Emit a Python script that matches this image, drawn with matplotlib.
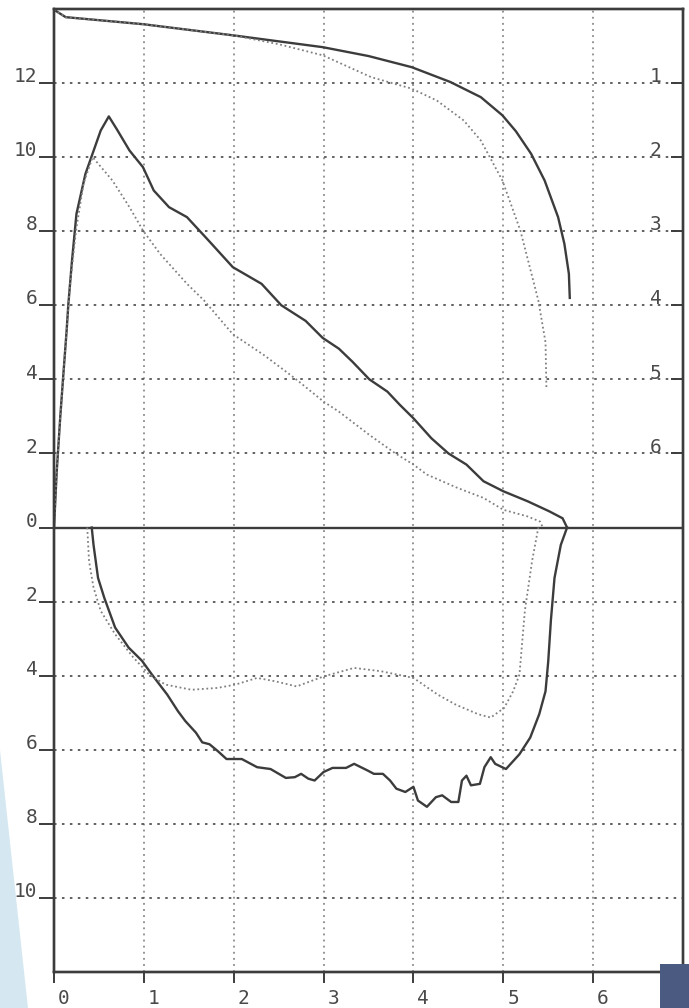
import matplotlib
matplotlib.use("Agg")
import matplotlib.pyplot as plt
from matplotlib.patches import Polygon, Rectangle
from matplotlib.transforms import ScaledTranslation

# ---- data (volume L, flow L/s; inspiration drawn below 0) ----
# upper "top" curves
top_solid_x = [0.0, 0.13, 0.99, 1.99, 2.99, 3.5, 3.98, 4.41, 4.75, 4.99, 5.14, 5.31, 5.46, 5.61, 5.68, 5.73, 5.74]
top_solid_y = [13.98, 13.78, 13.59, 13.29, 12.97, 12.73, 12.43, 12.03, 11.62, 11.13, 10.7, 10.09, 9.37, 8.38, 7.66, 6.85, 6.2]
top_dot_x = [0.0, 0.13, 0.99, 1.99, 2.5, 2.99, 3.53, 3.98, 4.26, 4.56, 4.75, 4.99, 5.19, 5.39, 5.47, 5.48]
top_dot_y = [13.98, 13.78, 13.59, 13.29, 13.05, 12.75, 12.16, 11.85, 11.53, 10.99, 10.45, 9.37, 8.02, 6.13, 5.0, 3.75]

# expiratory loop, solid
exp_solid_x = [0.0, 0.03, 0.07, 0.1, 0.14, 0.16, 0.2, 0.25, 0.35, 0.43, 0.52, 0.61, 0.7, 0.84, 0.99,
               1.11, 1.28, 1.48, 1.72, 1.99, 2.31, 2.53, 2.8, 2.99, 3.17, 3.32, 3.51, 3.71, 3.85, 4.0,
               4.2, 4.39, 4.59, 4.78, 5.0, 5.27, 5.51, 5.66, 5.71]
exp_solid_y = [0.0, 1.5, 3.0, 4.0, 5.3, 6.04, 7.2, 8.47, 9.55, 10.1, 10.72, 11.1, 10.75, 10.18, 9.73,
               9.1, 8.65, 8.38, 7.75, 7.03, 6.58, 6.0, 5.58, 5.12, 4.83, 4.48, 4.0, 3.67, 3.31, 2.95,
               2.41, 2.0, 1.7, 1.25, 0.98, 0.71, 0.44, 0.25, 0.0]
# expiratory loop, dotted
exp_dot_x = [0.0, 0.03, 0.07, 0.1, 0.14, 0.18, 0.25, 0.33, 0.43, 0.65, 0.84, 0.99, 1.18, 1.48, 1.67,
             1.99, 2.34, 2.68, 3.0, 3.17, 3.51, 3.8, 4.0, 4.15, 4.49, 4.78, 5.0, 5.27, 5.41, 5.44]
exp_dot_y = [0.0, 1.5, 3.0, 4.0, 5.3, 6.6, 8.1, 9.3, 10.0, 9.37, 8.65, 8.02, 7.39, 6.58, 6.13,
             5.22, 4.65, 4.03, 3.4, 3.13, 2.5, 2.0, 1.7, 1.43, 1.07, 0.8, 0.48, 0.3, 0.16, 0.0]

# inspiratory loop, solid
insp_solid_x = [0.42, 0.44, 0.49, 0.56, 0.68, 0.83, 0.98, 1.09, 1.26, 1.38, 1.46, 1.58, 1.65, 1.73,
                1.82, 1.92, 2.09, 2.26, 2.41, 2.58, 2.68, 2.75, 2.83, 2.9, 3.0, 3.1, 3.25, 3.34,
                3.49, 3.56, 3.66, 3.74, 3.81, 3.91, 4.0, 4.05, 4.15, 4.25, 4.32, 4.42, 4.5, 4.54,
                4.59, 4.64, 4.74, 4.79, 4.86, 4.91, 5.03, 5.18, 5.3, 5.4, 5.47, 5.5, 5.53, 5.57,
                5.64, 5.71]
insp_solid_y = [0.0, -0.47, -1.36, -1.9, -2.7, -3.24, -3.6, -3.97, -4.51, -4.96, -5.22, -5.54, -5.8,
                -5.85, -6.03, -6.25, -6.25, -6.47, -6.52, -6.76, -6.74, -6.65, -6.78, -6.83, -6.6,
                -6.49, -6.49, -6.38, -6.56, -6.65, -6.65, -6.83, -7.05, -7.14, -7.0, -7.37, -7.54,
                -7.28, -7.23, -7.41, -7.41, -6.83, -6.7, -6.96, -6.92, -6.47, -6.2, -6.38, -6.52,
                -6.12, -5.67, -5.04, -4.42, -3.62, -2.5, -1.36, -0.47, 0.0]
# inspiratory loop, dotted
insp_dot_x = [0.37, 0.39, 0.44, 0.52, 0.68, 0.88, 1.06, 1.24, 1.53, 1.82, 2.02, 2.26, 2.46, 2.7,
              3.0, 3.34, 3.64, 4.0, 4.27, 4.47, 4.72, 4.86, 5.01, 5.11, 5.18, 5.24, 5.32, 5.39]
insp_dot_y = [0.0, -0.91, -1.62, -2.25, -2.88, -3.5, -3.97, -4.24, -4.38, -4.33, -4.24, -4.06,
              -4.15, -4.29, -4.02, -3.79, -3.88, -4.06, -4.51, -4.78, -5.04, -5.13, -4.87, -4.42,
              -3.97, -2.25, -0.91, 0.0]

x_ticks = [0, 1, 2, 3, 4, 5, 6]
y_ticks = [12, 10, 8, 6, 4, 2, 0, -2, -4, -6, -8, -10]
y_labels = ["12", "10", "8", "6", "4", "2", "0", "2", "4", "6", "8", "10"]
right_ticks = [12, 10, 8, 6, 4, 2]
right_labels = ["1", "2", "3", "4", "5", "6"]

INK = "#3c3c3c"
FONT = ["DejaVu Sans Mono"]
FS = 14

fig = plt.figure(figsize=(6.89, 10.08), dpi=100)
fig.patch.set_facecolor("white")

# slide decorations around the scan
fig.patches.append(Polygon([(0, 0), (28 / 689, 0), (0, 1 - 750 / 1008)], closed=True,
                           transform=fig.transFigure, facecolor="#d5e8f1", edgecolor="none", zorder=0))

ax = fig.add_axes([54 / 689, 1 - 972 / 1008, 629 / 689, 963 / 1008])
ax.set_xlim(0, 7)
ax.set_ylim(-12, 14)

ax.plot(top_solid_x, top_solid_y, color=INK, lw=1.7, zorder=3)
ax.plot(top_dot_x, top_dot_y, color="#808080", lw=1.3, ls=(0, (1, 1.5)), zorder=3)
ax.plot(exp_solid_x, exp_solid_y, color=INK, lw=1.7, zorder=3)
ax.plot(exp_dot_x, exp_dot_y, color="#808080", lw=1.3, ls=(0, (1, 1.5)), zorder=3)
ax.plot(insp_solid_x, insp_solid_y, color=INK, lw=1.7, zorder=3)
ax.plot(insp_dot_x, insp_dot_y, color="#808080", lw=1.3, ls=(0, (1, 1.5)), zorder=3)

ax.axhline(0, color=INK, lw=1.7, zorder=2)

ax.set_xticks(x_ticks)
ax.set_xticklabels([str(v) for v in x_ticks])
ax.set_yticks(y_ticks)
ax.set_yticklabels(y_labels)
ax.yaxis.grid(True, color="#555555", lw=1.3, ls=(0, (1.4, 3.0)))
ax.xaxis.grid(True, color="#777777", lw=1.1, ls=(0, (1.2, 2.8)))
ax.tick_params(axis="y", direction="out", length=11, width=1.4, color=INK, pad=1,
               labelsize=FS, labelcolor="#4a4a4a")
ax.tick_params(axis="x", direction="out", length=8, width=1.4, color=INK, pad=4,
               labelsize=FS, labelcolor="#4a4a4a")
for lab in ax.get_yticklabels():
    lab.set_family(FONT)
    lab.set_transform(lab.get_transform() + ScaledTranslation(0, 6 / 72, fig.dpi_scale_trans))
for lab in ax.get_xticklabels():
    lab.set_family(FONT)
    lab.set_transform(lab.get_transform() + ScaledTranslation(7 / 72, 0, fig.dpi_scale_trans))

ax2 = ax.twinx()
ax2.set_ylim(-12, 14)
ax2.set_yticks(right_ticks)
ax2.set_yticklabels(right_labels)
ax2.tick_params(axis="y", direction="in", length=9, width=1.4, color=INK, pad=-24,
                labelsize=FS, labelcolor="#4a4a4a")
for lab in ax2.get_yticklabels():
    lab.set_family(FONT)
    lab.set_transform(lab.get_transform() + ScaledTranslation(0, 6 / 72, fig.dpi_scale_trans))

for a in (ax, ax2):
    for s in a.spines.values():
        s.set_color(INK)
        s.set_linewidth(1.7)

fig.patches.append(Rectangle((660 / 689, 0), 29 / 689, 44 / 1008, transform=fig.transFigure,
                             facecolor="#4a5a80", edgecolor="none", zorder=10))

fig.savefig("out.png", dpi=100)
